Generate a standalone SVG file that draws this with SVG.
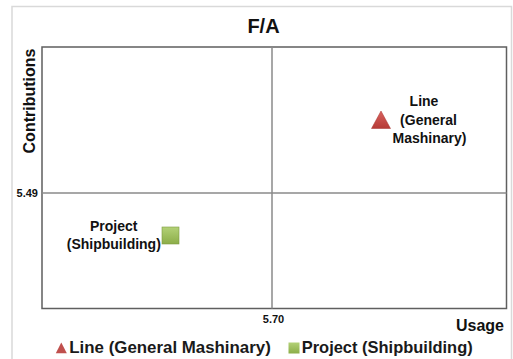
<svg xmlns="http://www.w3.org/2000/svg" width="513" height="359" viewBox="0 0 513 359">
  <defs>
    <linearGradient id="gRed" x1="0" y1="0" x2="0" y2="1">
      <stop offset="0" stop-color="#d9625e"/>
      <stop offset="1" stop-color="#b53a36"/>
    </linearGradient>
    <linearGradient id="gGreen" x1="0" y1="0" x2="0" y2="1">
      <stop offset="0" stop-color="#b3d177"/>
      <stop offset="1" stop-color="#8cad48"/>
    </linearGradient>
    <style>
      text { font-family: "Liberation Sans", Arial, sans-serif; font-weight: bold; fill: #111; }
      .title { font-size: 20px; }
      .axis { font-size: 16px; }
      .tick { font-size: 11px; }
      .lbl { font-size: 14px; text-anchor: middle; }
      .leg { font-size: 17px; fill: #1a1a1a; }
      .frame { fill: #fff; stroke: #d9d9d9; stroke-width: 1.5; }
      .plot { fill: #fff; stroke: #5f5f5f; stroke-width: 1.5; }
      .grid { stroke: #8a8a8a; stroke-width: 1.5; fill: none; }
    </style>
  </defs>
  <rect x="0" y="0" width="513" height="359" fill="#fff"/>
  <rect class="frame" x="12" y="6.5" width="499.5" height="360"/>
  <text class="title" x="263.5" y="33" text-anchor="middle">F/A</text>
  <text class="axis" transform="translate(35,101) rotate(-90)" text-anchor="middle">Contributions</text>
  <text class="axis" x="504" y="331" text-anchor="end">Usage</text>

  <g id="plot-area">
    <rect class="plot" x="42" y="47" width="464.5" height="261.5"/>
  </g>
  <g id="connectors">
    <line class="grid" x1="272" y1="47" x2="272" y2="308.5"/>
    <line class="grid" x1="42" y1="193" x2="506.5" y2="193"/>
  </g>
  <text class="tick" x="38" y="197" text-anchor="end">5.49</text>
  <text class="tick" x="273.5" y="322.5" text-anchor="middle">5.70</text>

  <g id="node-line">
    <polygon points="381,111 390.5,128.5 371.5,128.5" fill="url(#gRed)" stroke="#a8322f" stroke-width="0.5"/>
    <text class="lbl" x="424" y="106">Line</text>
    <text class="lbl" x="428.5" y="124.5">(General</text>
    <text class="lbl" x="429.5" y="143">Mashinary)</text>
  </g>
  <g id="node-project">
    <rect x="162" y="227" width="17" height="17" fill="url(#gGreen)" stroke="#7e9c40" stroke-width="0.6"/>
    <text class="lbl" x="113.7" y="231">Project</text>
    <text class="lbl" x="113.8" y="248.5">(Shipbuilding)</text>
  </g>

  <g id="legend">
    <polygon points="61.3,342.5 66.8,353.3 55.8,353.3" fill="#c0504d"/>
    <text class="leg" x="69.3" y="353.3" textLength="201.5" lengthAdjust="spacingAndGlyphs">Line (General Mashinary)</text>
    <rect x="288.5" y="342.5" width="11" height="11" fill="url(#gGreen)"/>
    <text class="leg" x="301.7" y="353.3" textLength="171" lengthAdjust="spacingAndGlyphs">Project (Shipbuilding)</text>
  </g>
</svg>
